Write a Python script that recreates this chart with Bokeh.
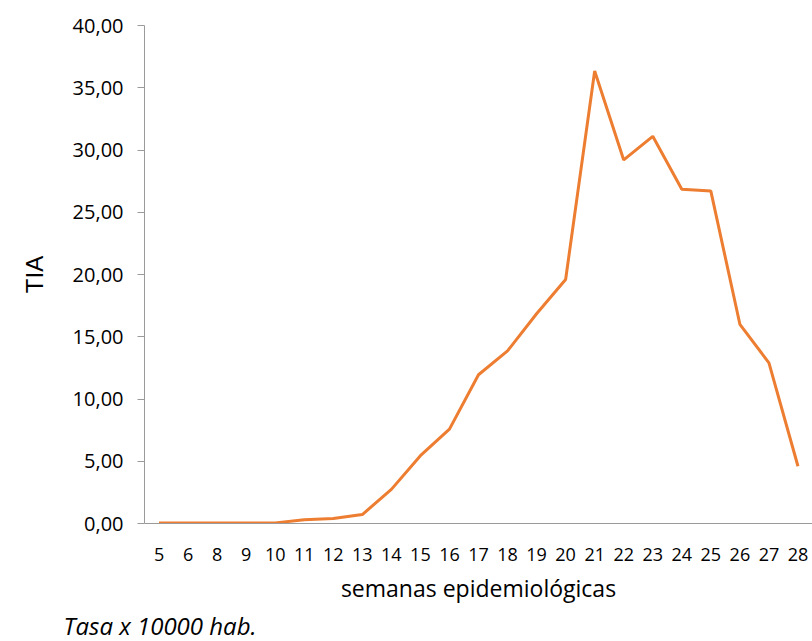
from bokeh.plotting import figure
from bokeh.models import FixedTicker, CustomJSTickFormatter, Title, Range1d
from bokeh.embed import file_html
from bokeh.resources import INLINE

weeks = ["5", "6", "8", "9", "10", "11", "12", "13", "14", "15", "16", "17",
         "18", "19", "20", "21", "22", "23", "24", "25", "26", "27", "28"]
tia = [0.05, 0.05, 0.05, 0.05, 0.05, 0.30, 0.40, 0.72, 2.74, 5.45, 7.58, 11.95,
       13.86, 16.85, 19.60, 36.35, 29.20, 31.10, 26.85, 26.70, 16.00, 12.90, 4.60]
y_ticks = [0, 5, 10, 15, 20, 25, 30, 35, 40]

FONT = "Open Sans"

p = figure(width=812, height=641, x_range=weeks, y_range=Range1d(0, 40),
           output_backend="svg", toolbar_location=None,
           min_border_left=144, min_border_right=0, min_border_top=25, min_border_bottom=0)
p.outline_line_color = None
p.xgrid.grid_line_color = None
p.ygrid.grid_line_color = None
p.x_range.range_padding = 0

p.line(x=weeks, y=tia, line_color="#ED7D31", line_width=3)

# y axis
p.yaxis.ticker = FixedTicker(ticks=y_ticks)
p.yaxis.formatter = CustomJSTickFormatter(code="return tick.toFixed(2).replace('.', ',');")
p.yaxis.minor_tick_line_color = None
p.yaxis.axis_line_color = "#9a9a9a"
p.yaxis.major_tick_line_color = "#9a9a9a"
p.yaxis.major_tick_out = 7
p.yaxis.major_tick_in = 0
p.yaxis.major_label_text_font = FONT
p.yaxis.major_label_text_font_size = "20px"
p.yaxis.major_label_text_color = "#000000"
p.yaxis.major_label_standoff = 14
p.yaxis.axis_label = "TIA"
p.yaxis.axis_label_text_font = "Liberation Sans"
p.yaxis.axis_label_text_font_style = "normal"
p.yaxis.axis_label_text_font_size = "24px"
p.yaxis.axis_label_text_color = "#000000"
p.yaxis.axis_label_standoff = 22

# x axis
p.xaxis.axis_line_color = "#9a9a9a"
p.xaxis.major_tick_line_color = None
p.xaxis.minor_tick_line_color = None
p.xaxis.major_label_text_font = FONT
p.xaxis.major_label_text_font_size = "18px"
p.xaxis.major_label_text_color = "#000000"
p.xaxis.major_label_standoff = 18
p.xaxis.axis_label = "semanas epidemiológicas"
p.xaxis.axis_label_text_font = FONT
p.xaxis.axis_label_text_font_style = "normal"
p.xaxis.axis_label_text_font_size = "23px"
p.xaxis.axis_label_text_color = "#000000"
p.xaxis.axis_label_standoff = 8

note = Title(text="Tasa x 10000 hab.", align="left", offset=-81, standoff=0,
             text_font=FONT, text_font_style="italic", text_font_size="24px",
             text_line_height=0.8, text_color="#000000")
p.add_layout(note, "below")

open("out.html", "w").write(file_html(p, INLINE))
